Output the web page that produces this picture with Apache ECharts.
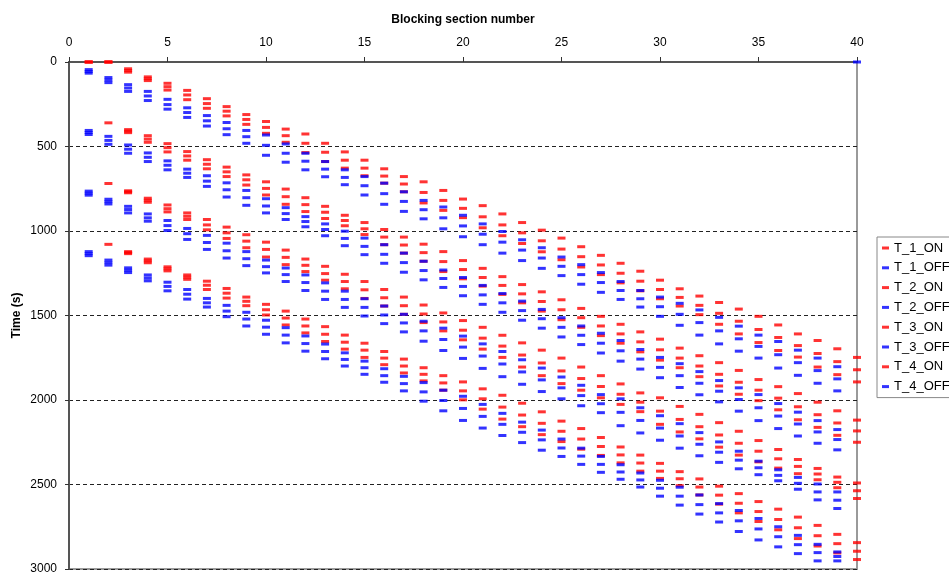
<!DOCTYPE html>
<html>
<head>
<meta charset="utf-8">
<title>Blocking section occupation</title>
<script src="https://cdn.jsdelivr.net/npm/echarts@6/dist/echarts.min.js"></script>
<style>
  html, body { margin: 0; padding: 0; background: #ffffff; }
  #chart { width: 949px; height: 575px; }
</style>
</head>
<body>
<div id="chart"></div>
<script>
// Blocking sections along the line (x axis)
const sections = [1, 2, 3, 4, 5, 6, 7, 8, 9, 10, 11, 12, 13, 14, 15, 16, 17, 18, 19, 20,
  21, 22, 23, 24, 25, 26, 27, 28, 29, 30, 31, 32, 33, 34, 35, 36, 37, 38, 39, 40];

// Axis tick values
const timeTicks = [0, 500, 1000, 1500, 2000, 2500, 3000];
const sectionTicks = [0, 5, 10, 15, 20, 25, 30, 35, 40];

// Switching times (s) per section, one list per section, for each train
const T1_ON = [[0,0,0],[0,0,0],[40,50,60],[88,99,110],[126,146,166],[168,195,223],[217,246,274],[264,291,319],[311,340,369],[352,387,422],
  [397,436,475],[426,481,536],[481,534,589],[532,581,628],[581,628,673],[632,675,717],[678,722,768],[709,772,834],[760,819,878],[811,866,921],
  [850,916,981],[899,964,1028],[950,1011,1074],[995,1058,1123],[1042,1107,1170],[1093,1152,1213],[1144,1201,1258],[1191,1250,1307],[1238,1297,1354],[1291,1346,1401],
  [1342,1393,1444],[1385,1440,1495],[1423,1487,1552],[1462,1534,1609],[1505,1583,1660],[1556,1630,1707],[1609,1678,1746],[1648,1725,1805],[1697,1773,1850],[1748,1821,1893]];
const T1_OFF = [[45,56,66],[92,107,122],[134,154,174],[174,201,228],[221,252,279],[271,299,328],[317,348,379],[358,395,430],[405,442,481],[432,493,552],
  [485,540,593],[540,587,638],[589,634,679],[638,683,726],[678,732,787],[717,779,842],[768,825,884],[819,874,928],[858,922,987],[907,970,1034],
  [958,1019,1081],[1003,1066,1131],[1052,1113,1175],[1099,1160,1221],[1154,1209,1264],[1199,1258,1315],[1246,1305,1363],[1299,1352,1405],[1352,1401,1450],[1391,1448,1505],
  [1428,1493,1558],[1467,1542,1616],[1511,1591,1668],[1563,1638,1711],[1616,1683,1752],[1654,1732,1811],[1705,1779,1854],[1752,1826,1901],[1803,1875,1946],[0]];

const T2_ON = [[],[360],[400,409,418],[436,456,475],[483,507,532],[530,556,581],[578,605,632],[622,650,678],[668,697,728],[709,748,787],
  [752,797,842],[803,844,885],[854,889,926],[907,938,969],[950,987,1021],[991,1036,1081],[1036,1083,1131],[1078,1128,1179],[1122,1181,1240],[1175,1228,1283],
  [1221,1275,1326],[1270,1322,1375],[1317,1372,1425],[1360,1417,1474],[1407,1466,1525],[1458,1513,1570],[1505,1562,1619],[1552,1609,1664],[1597,1656,1715],[1640,1703,1764],
  [1693,1752,1809],[1738,1799,1862],[1779,1848,1917],[1825,1895,1966],[1879,1942,2004],[1921,1989,2058],[1962,2040,2117],[2013,2087,2162],[2064,2136,2209],[2119,2183,2250]];
const T2_OFF = [[405,417,429],[440,464,487],[491,516,540],[538,564,589],[585,611,638],[634,658,683],[673,705,736],[715,756,799],[760,803,848],[809,852,893],
  [862,897,932],[915,944,975],[958,991,1028],[1001,1044,1087],[1042,1091,1140],[1081,1138,1191],[1131,1187,1244],[1179,1234,1289],[1231,1281,1334],[1275,1328,1383],
  [1322,1378,1434],[1370,1425,1481],[1415,1471,1528],[1464,1519,1575],[1513,1570,1627],[1562,1617,1672],[1605,1664,1722],[1648,1709,1770],[1701,1758,1817],[1748,1807,1868],
  [1785,1856,1926],[1832,1901,1969],[1885,1948,2011],[1928,1997,2066],[1968,2046,2122],[2021,2095,2169],[2072,2142,2213],[2122,2189,2256],[2175,2234,2295],[]];

const T3_ON = [[],[719],[762,768,774],[806,818,830],[846,868,887],[893,913,932],[932,964,993],[977,1011,1044],[1022,1060,1099],[1066,1109,1154],
  [1113,1156,1199],[1166,1203,1240],[1209,1252,1291],[1256,1299,1342],[1299,1348,1399],[1346,1395,1444],[1391,1442,1493],[1438,1491,1542],[1485,1538,1591],[1530,1587,1644],
  [1570,1634,1699],[1617,1681,1748],[1662,1734,1805],[1705,1781,1856],[1752,1828,1903],[1805,1873,1942],[1856,1920,1987],[1905,1966,2026],[1958,2013,2069],[1987,2066,2144],
  [2038,2115,2189],[2085,2158,2230],[2134,2207,2279],[2185,2256,2326],[2240,2303,2366],[2293,2348,2403],[2352,2393,2436],[2405,2438,2472],[2456,2487,2519],[2491,2537,2583]];
const T3_OFF = [[764,776,788],[812,826,840],[854,873,893],[899,922,942],[938,968,997],[985,1016,1050],[1026,1068,1109],[1072,1117,1160],[1122,1164,1205],[1172,1211,1248],
  [1219,1258,1299],[1260,1305,1352],[1307,1356,1405],[1356,1405,1452],[1401,1452,1503],[1444,1497,1548],[1493,1544,1597],[1534,1591,1652],[1575,1642,1707],[1622,1687,1754],
  [1668,1740,1813],[1713,1787,1862],[1762,1834,1907],[1811,1881,1950],[1864,1928,1993],[1913,1974,2034],[1968,2022,2075],[1993,2073,2152],[2046,2121,2195],[2093,2166,2238],
  [2140,2213,2285],[2193,2262,2330],[2248,2309,2369],[2303,2356,2407],[2362,2401,2442],[2413,2446,2478],[2458,2493,2528],[2497,2544,2591],[2544,2593,2642],[]];

const T4_ON = [[],[1079],[1122,1128,1134],[1166,1177,1188],[1212,1224,1236],[1260,1273,1286],[1297,1321,1346],[1340,1368,1397],[1391,1416,1442],[1434,1466,1497],
  [1474,1515,1556],[1521,1562,1603],[1566,1611,1654],[1616,1658,1699],[1664,1705,1748],[1713,1752,1791],[1758,1799,1840],[1809,1848,1887],[1856,1899,1942],[1893,1946,1999],
  [1934,1993,2054],[1972,2042,2113],[2019,2089,2158],[2070,2138,2205],[2125,2185,2246],[2169,2231,2291],[2222,2275,2328],[2278,2325,2372],[2326,2373,2421],[2375,2421,2464],
  [2424,2466,2507],[2467,2515,2562],[2510,2563,2616],[2554,2611,2668],[2601,2660,2719],[2646,2707,2768],[2693,2756,2820],[2742,2803,2864],[2795,2850,2905],[2844,2895,2944]];
const T4_OFF = [[1122,1134,1146],[1172,1187,1202],[1218,1232,1246],[1260,1278,1295],[1303,1328,1354],[1346,1374,1403],[1399,1425,1450],[1440,1474,1507],[1481,1521,1562],[1528,1569,1611],
  [1572,1616,1662],[1621,1666,1711],[1669,1713,1756],[1721,1760,1799],[1770,1809,1848],[1815,1856,1895],[1860,1903,1946],[1897,1952,2007],[1942,2003,2064],[1978,2050,2121],
  [2026,2097,2166],[2079,2144,2210],[2131,2191,2252],[2178,2236,2297],[2231,2284,2334],[2285,2332,2381],[2334,2381,2428],[2383,2426,2469],[2432,2473,2515],[2475,2522,2569],
  [2516,2569,2622],[2562,2619,2675],[2613,2668,2722],[2654,2715,2778],[2701,2763,2828],[2750,2809,2869],[2801,2856,2909],[2854,2903,2952],[2899,2926,2952],[]];

const seriesNames = ['T_1_ON', 'T_1_OFF', 'T_2_ON', 'T_2_OFF', 'T_3_ON', 'T_3_OFF', 'T_4_ON', 'T_4_OFF'];
const seriesTimes = [T1_ON, T1_OFF, T2_ON, T2_OFF, T3_ON, T3_OFF, T4_ON, T4_OFF];
const ON_COLOR = '#ff0000';
const OFF_COLOR = '#0000ff';

// Flatten per-section time lists into [section, time] points
function toPoints(times) {
  const pts = [];
  times.forEach((list, i) => {
    list.forEach(t => pts.push([sections[i], t]));
  });
  return pts;
}

const FONT = "'Liberation Sans', Arial, Helvetica, sans-serif";

const chart = echarts.init(document.getElementById('chart'), null, { renderer: 'canvas' });

chart.setOption({
  backgroundColor: '#ffffff',
  animation: false,
  textStyle: { fontFamily: FONT },
  grid: {
    left: 69, top: 62, width: 788, height: 509,
    show: true, borderColor: '#9a9a9a', borderWidth: 2, backgroundColor: 'transparent'
  },
  legend: {
    orient: 'vertical',
    left: 877, top: 237,
    padding: [4, 14, 4, 5],
    itemGap: 5.8,
    itemWidth: 7, itemHeight: 3,
    icon: 'rect',
    borderColor: '#888', borderWidth: 1,
    backgroundColor: '#ffffff',
    textStyle: { fontFamily: FONT, fontSize: 13, color: '#000', lineHeight: 14 },
    data: seriesNames
  },
  xAxis: {
    type: 'value',
    position: 'top',
    min: sectionTicks[0], max: sectionTicks[sectionTicks.length - 1], interval: 5,
    name: 'Blocking section number',
    nameLocation: 'middle',
    nameGap: 36,
    nameMoveOverlap: false,
    nameTextStyle: { fontFamily: FONT, fontSize: 12, fontWeight: 'bold', color: '#000' },
    axisLine: { show: true, onZero: false, lineStyle: { color: '#555', width: 2 } },
    axisTick: { show: true, inside: false, length: 5, lineStyle: { color: '#333', width: 1 } },
    axisLabel: { fontFamily: FONT, fontSize: 12, color: '#000', margin: 13 },
    splitLine: { show: false }
  },
  yAxis: {
    type: 'value',
    inverse: true,
    min: timeTicks[0], max: timeTicks[timeTicks.length - 1], interval: 500,
    name: 'Time (s)',
    nameLocation: 'middle',
    nameGap: 46,
    nameMoveOverlap: false,
    nameTextStyle: { fontFamily: FONT, fontSize: 12, fontWeight: 'bold', color: '#000' },
    axisLine: { show: true, onZero: false, lineStyle: { color: '#555', width: 2 } },
    axisTick: { show: true, inside: false, length: 4, lineStyle: { color: '#333', width: 1 } },
    axisLabel: { fontFamily: FONT, fontSize: 12, color: '#000', margin: 12, formatter: v => String(v) },
    splitLine: { show: true, lineStyle: { color: '#222', width: 1, type: [4, 3] } }
  },
  series: seriesNames.map((name, k) => ({
    name: name,
    type: 'scatter',
    symbol: 'rect',
    symbolSize: [8, 3],
    itemStyle: { color: k % 2 === 0 ? ON_COLOR : OFF_COLOR },
    data: toPoints(seriesTimes[k]),
    clip: false,
    z: 3
  }))
});
</script>
</body>
</html>
